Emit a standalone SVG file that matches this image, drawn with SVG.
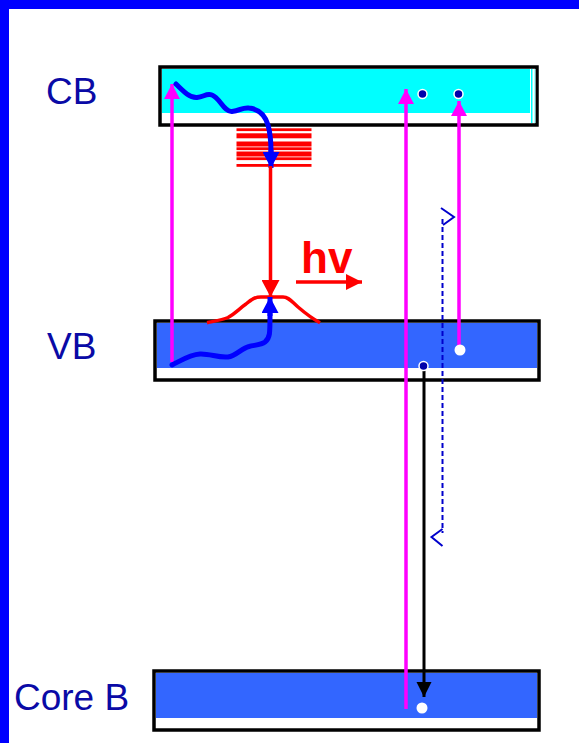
<svg xmlns="http://www.w3.org/2000/svg" width="579" height="743" viewBox="0 0 579 743">
<style>
.lbl{font-family:"Liberation Sans",Arial,sans-serif;font-size:37px;fill:#0A0AA6}
.box{stroke:#000;stroke-width:3.5;fill:#fff}
.mag{stroke:#FF00FF;stroke-width:3.5;fill:none}
.wav{stroke:#0000FF;stroke-width:5;fill:none;stroke-linecap:round}
.red{stroke:#FF0000;stroke-width:3.5;fill:none}
</style>
<defs>
<marker id="mArr" markerWidth="16" markerHeight="16" refX="15" refY="8" orient="auto" markerUnits="userSpaceOnUse"><path d="M0,0 L15,8 L0,16 Z" fill="#FF00FF"/></marker>
<marker id="bArr" markerWidth="17" markerHeight="17" refX="16" refY="8.5" orient="auto" markerUnits="userSpaceOnUse"><path d="M0,0 L16,8.5 L0,17 Z" fill="#0000FF"/></marker>
<marker id="rArr" markerWidth="18" markerHeight="18" refX="17" refY="9" orient="auto" markerUnits="userSpaceOnUse"><path d="M0,0 L17,9 L0,18 Z" fill="#FF0000"/></marker>
<marker id="rArr2" markerWidth="16" markerHeight="16" refX="16" refY="8" orient="auto" markerUnits="userSpaceOnUse"><path d="M0,0 L16,8 L0,16 Z" fill="#FF0000"/></marker>
<marker id="kArr" markerWidth="16" markerHeight="16" refX="15" refY="7.5" orient="auto" markerUnits="userSpaceOnUse"><path d="M0,0 L15,7.5 L0,15 Z" fill="#000"/></marker>
</defs>
<rect width="579" height="743" fill="#fff"/>
<rect x="0" y="0" width="9" height="743" fill="#0000FF"/>
<rect x="0" y="0" width="579" height="9" fill="#0000FF"/>

<g id="labels">
<text class="lbl" x="46" y="104">CB</text>
<text class="lbl" x="47" y="359">VB</text>
<text class="lbl" x="14" y="710">Core B</text>
</g>

<g id="cb">
<rect class="box" x="160" y="67" width="377" height="58"/>
<rect x="162" y="69" width="368" height="44" fill="#00FFFF"/>
<rect x="531" y="69" width="1.5" height="54" fill="#00FFFF"/>
<rect x="534" y="69" width="1.5" height="54" fill="#AAFFFF"/>
</g>
<g id="vb">
<rect class="box" x="155" y="321" width="384" height="59"/>
<rect x="157" y="323" width="380" height="45" fill="#3366FF"/>
</g>
<g id="core">
<rect class="box" x="154" y="671" width="385" height="59"/>
<rect x="156" y="673" width="381" height="45" fill="#3366FF"/>
</g>

<g id="traps" fill="#FF0000">
<rect x="236.5" y="128.3" width="75" height="2.8"/>
<rect x="236.5" y="133.3" width="75" height="5"/>
<rect x="236.5" y="141.5" width="75" height="5"/>
<rect x="236.5" y="147.3" width="75" height="2.8"/>
<rect x="236.5" y="151.5" width="75" height="5"/>
<rect x="236.5" y="157.3" width="75" height="2.8"/>
<rect x="236.5" y="164" width="75" height="2.8"/>
</g>

<g id="hv">
<text x="301" y="273" font-family="Liberation Sans,Arial,sans-serif" font-weight="bold" font-size="44" fill="#FF0000">hv</text>
<line class="red" x1="296" y1="282" x2="362" y2="282" marker-end="url(#rArr2)"/>
</g>

<g id="connectors">
<line class="mag" x1="172" y1="362" x2="172" y2="84" marker-end="url(#mArr)"/>
<line class="mag" x1="406" y1="709" x2="406" y2="89" marker-end="url(#mArr)"/>
<line class="mag" x1="459" y1="349" x2="459" y2="101" marker-end="url(#mArr)"/>
<path class="wav" d="M176,84 C184,92 190,98 197,97.5 C204,97 206,93 212,95 C220,98 224,112 232,111.5 C240,111 242,107 249,108 C258,109 265,115 268,125 C270,132 271,140 271,152"/>
<line x1="271" y1="150" x2="271" y2="168" stroke="#0000FF" stroke-width="5" marker-end="url(#bArr)"/>
<line class="red" x1="270.5" y1="166" x2="270.5" y2="297" marker-end="url(#rArr)"/>
<path class="red" d="M207,322.7 C215,321 222,320 228,317.5 C236,313 240,308 246,304 C252,299 255,297 261,297 L283,297 C289,297 292,302 298,307 C305,313 313,319 320,322.7"/>
<path class="wav" d="M172,365 C182,360 190,354.5 200,354 C210,353.5 218,358 228,357 C236,356 242,348 249,346.5 C255,345 261,345 265,342 C270,338 270,334 270,314"/>
<line x1="270" y1="316" x2="270" y2="297" stroke="#0000FF" stroke-width="5" marker-end="url(#bArr)"/>
<line x1="424" y1="370" x2="424" y2="697" stroke="#000" stroke-width="3" marker-end="url(#kArr)"/>
<g stroke="#0000CC" stroke-width="2" fill="none">
<line x1="442.5" y1="219" x2="442.5" y2="533" stroke-dasharray="5,3"/>
<polyline points="441,208 454,217 443,225"/>
<polyline points="442.5,529 431.5,537 442.5,546"/>
</g>
</g>

<g id="dots">
<circle cx="422.5" cy="94" r="4.5" fill="#0000AA" stroke="#fff" stroke-width="1.5"/>
<circle cx="458.5" cy="94" r="4.5" fill="#0000AA" stroke="#fff" stroke-width="1.5"/>
<circle cx="460" cy="350" r="5.5" fill="#fff"/>
<circle cx="423.5" cy="366" r="4.5" fill="#0000AA" stroke="#fff" stroke-width="1.5"/>
<circle cx="422" cy="708" r="5.5" fill="#fff"/>
</g>
</svg>
